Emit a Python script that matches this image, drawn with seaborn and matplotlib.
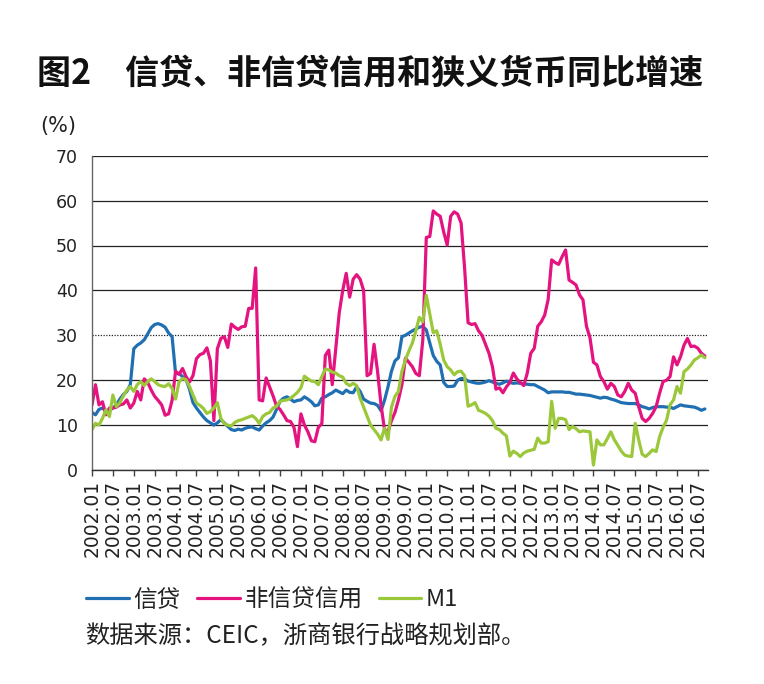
import matplotlib
matplotlib.use("Agg")
import matplotlib.pyplot as plt
import seaborn as sns
import pandas as pd

# ---- data (monthly, 2002.01 - 2016.09) ----
credit = [
    12.8, 12.3, 13.5, 13.8, 13.2, 13.3, 13.8, 14.5, 15.8, 16.8, 17.5, 19.0,
    27.0, 27.8, 28.3, 29.0, 30.3, 31.7, 32.4, 32.6, 32.3, 31.8, 30.5, 29.7,
    21.5, 21.5, 20.8, 20.2, 18.0, 15.0, 13.8, 12.8, 11.8, 11.0, 10.5, 10.0,
    10.5, 11.2, 10.5, 9.7, 9.0, 8.8, 9.1, 8.9, 9.3, 9.5, 9.6, 9.2,
    8.9, 9.8, 10.5, 11.0, 11.8, 13.5, 15.3, 16.0, 16.3, 15.8, 15.2, 15.5,
    15.6, 16.3, 15.8, 15.2, 14.3, 14.5, 16.0, 16.3, 16.8, 17.2, 17.8, 17.4,
    17.0, 17.8, 17.3, 17.2, 18.5, 17.5, 15.8, 15.3, 14.9, 14.8, 14.4, 13.2,
    15.5, 18.5, 22.0, 24.3, 25.0, 29.7, 30.0, 30.5, 31.0, 31.4, 31.8, 32.0,
    31.2, 28.3, 25.5, 24.2, 23.4, 19.5, 18.6, 18.6, 18.7, 20.0, 20.4, 20.3,
    19.8, 19.6, 19.4, 19.3, 19.4, 19.6, 19.9, 19.6, 19.3, 19.1, 19.4, 19.8,
    19.5, 19.3, 19.4, 19.3, 19.2, 19.1, 19.0, 19.0, 18.6, 18.2, 17.8, 17.2,
    17.4, 17.4,
    17.4, 17.4, 17.3, 17.3, 17.1, 16.9, 16.9, 16.8, 16.7, 16.6, 16.4, 16.2,
    16.0, 16.2, 16.1, 15.8, 15.6, 15.3, 15.0, 14.9, 14.8, 14.8, 14.8, 14.5,
    14.1, 13.9, 13.6, 13.9, 14.1, 14.1, 14.1, 14.0, 14.0, 13.7, 14.1, 14.5,
    14.3, 14.2, 14.1, 14.0, 13.7, 13.3, 13.6,
]

noncredit = [
    14.5, 19.0, 14.5, 15.2, 12.3, 13.8, 13.8, 14.0, 14.5, 14.7, 15.6, 13.8,
    14.9, 17.5, 15.6, 20.3, 19.5, 17.8, 16.4, 15.5, 14.5, 12.2, 12.5, 15.5,
    22.0, 21.3, 22.6, 20.8, 19.6, 21.0, 24.8, 25.7, 26.0, 27.2, 24.3, 11.0,
    27.0, 29.3, 29.7, 27.3, 32.5, 31.8, 31.3, 31.9, 32.0, 36.0, 36.0, 45.0,
    15.6, 15.4, 20.5, 18.5, 16.5, 14.2, 13.5, 12.3, 11.0, 10.8, 9.5, 5.2,
    12.5, 10.0, 8.5, 6.5, 6.3, 9.5, 10.3, 25.5, 26.7, 19.0, 27.0, 35.0,
    40.0, 43.8, 38.5, 42.5, 43.5, 42.5, 40.0, 21.0, 21.5, 28.0, 22.0, 14.5,
    9.0, 8.5, 11.0, 12.8, 15.6, 19.0, 24.9, 24.0, 23.0, 21.5, 21.0, 29.0,
    51.8, 52.0, 57.7, 57.0, 56.5, 53.0, 50.1, 56.5, 57.5, 57.0, 55.0, 45.0,
    32.8, 32.4, 32.6, 31.0, 30.0, 28.0, 26.0, 23.0, 18.0, 18.3, 17.2, 18.5,
    19.5, 21.6, 20.3, 19.5, 18.8, 21.6, 26.0, 27.1, 32.0, 33.0, 34.5, 38.0,
    46.8, 46.2, 45.8, 47.5, 49.0, 42.3, 41.8, 41.2, 39.0, 37.9, 32.0, 29.5,
    24.0, 23.4, 20.8, 19.7, 18.0, 19.3, 18.6, 16.7, 16.3, 17.5, 19.3, 17.8,
    17.1, 14.1, 11.5, 10.8, 11.5, 12.6, 14.1, 17.1, 19.7, 20.0, 20.8, 25.2,
    23.4, 25.2, 27.8, 29.3, 27.5, 27.6, 27.1, 26.0, 25.4,
]

m1 = [
    9.0, 10.4, 10.0, 11.5, 13.4, 11.9, 16.7, 14.1, 15.0, 16.5, 17.8, 18.6,
    17.5, 19.0, 19.7, 18.8, 19.7, 20.3, 19.7, 19.0, 18.7, 18.6, 19.2, 18.2,
    15.8, 19.6, 20.4, 20.1, 18.6, 16.7, 14.9, 14.4, 13.7, 12.6, 13.0, 13.8,
    15.0, 11.5, 10.3, 10.0, 9.8, 10.6, 11.0, 11.2, 11.5, 11.8, 12.1, 11.5,
    10.4, 11.9, 12.5, 12.8, 13.8, 14.2, 15.3, 15.5, 15.6, 16.0, 16.6, 17.3,
    18.3, 20.9, 20.3, 19.8, 19.7, 19.0, 20.8, 22.5, 22.3, 21.8, 21.6, 21.0,
    20.7, 19.3, 18.8, 19.3, 18.8, 16.0, 14.0, 12.0, 10.0, 9.0, 8.0, 6.7,
    9.3, 6.8, 14.0, 16.4, 17.5, 22.0, 24.5, 26.5, 28.3, 31.0, 34.0, 33.0,
    38.9, 34.8, 30.6, 31.0, 28.0, 24.5, 23.0, 22.3, 21.2, 21.9, 22.0, 21.0,
    14.2, 14.5, 15.0, 13.3, 13.0, 12.6, 12.0, 11.0, 9.3, 9.0, 8.2, 7.6,
    3.1, 4.2, 3.7, 3.0, 3.8, 4.2, 4.4, 4.6, 7.1, 6.0, 6.0, 6.3,
    15.3, 9.3, 11.5, 11.5, 11.2, 9.0, 9.7, 9.2, 8.5, 8.7, 8.6, 8.5,
    1.1, 6.7, 5.6, 5.6, 7.0, 8.5, 6.7, 5.5, 4.2, 3.3, 3.1, 3.0,
    10.4, 6.7, 3.5, 3.0, 3.7, 4.5, 4.1, 7.4, 9.5, 11.1, 14.5, 15.6,
    18.6, 17.1, 21.9, 22.5, 23.4, 24.5, 25.0, 25.6, 25.0,
]

series_names = ["信贷", "非信贷信用", "M1"]
series_colors = ["#1f6fb2", "#e4137f", "#9bc83b"]

tick_labels = [
    "2002.01", "2002.07", "2003.01", "2003.07", "2004.01", "2004.07",
    "2005.01", "2005.07", "2006.01", "2006.07", "2007.01", "2007.07",
    "2008.01", "2008.07", "2009.01", "2009.07", "2010.01", "2010.07",
    "2011.01", "2011.07", "2012.01", "2012.07", "2013.01", "2013.07",
    "2014.01", "2014.07", "2015.01", "2015.07", "2016.01", "2016.07",
]
tick_step = 6

title_text = "图2　信贷、非信贷信用和狭义货币同比增速"
unit_text = "(%)"
source_text = "数据来源：CEIC，浙商银行战略规划部。"

# ---- long-form table ----
n = len(credit)
month_idx = list(range(n))
df = pd.DataFrame({
    "month": month_idx * 3,
    "value": credit + noncredit + m1,
    "series": [series_names[0]] * n + [series_names[1]] * n + [series_names[2]] * n,
})

sns.set_style("white")
plt.rcParams["font.family"] = ["Noto Sans CJK SC", "DejaVu Sans"]

fig = plt.figure(figsize=(7.64, 6.84), dpi=100)
ax = fig.add_axes([92 / 764, 1 - 470 / 684, 616 / 764, 314.3 / 684])

sns.lineplot(data=df, x="month", y="value", hue="series", hue_order=series_names,
             palette=series_colors, linewidth=2.3, estimator=None, sort=False,
             legend=False, ax=ax)

ax.set_xlim(0, 176.9)
ax.set_ylim(0, 70)
ax.set_yticks(range(0, 71, 10))
ax.set_yticklabels([str(v) for v in range(0, 71, 10)], fontsize=12.5, family="DejaVu Sans")
ax.set_xticks(list(range(0, tick_step * len(tick_labels), tick_step)))
ax.set_xticklabels(tick_labels, rotation=90, fontsize=13.5, family="DejaVu Sans")
ax.set_xlabel("")
ax.set_ylabel("")

ax.yaxis.grid(True, color="#222222", linewidth=0.9)
ax.xaxis.grid(False)
ax.set_axisbelow(True)
gl = ax.get_ygridlines()
gl[3].set_linestyle((0, (1, 1.2)))

ax.tick_params(axis="x", bottom=True, direction="out", length=4, width=1,
               color="#444444", pad=3, labelcolor="#222222")
ax.tick_params(axis="y", left=False, length=0, pad=10, labelcolor="#222222")
for s in ("top", "right"):
    ax.spines[s].set_visible(False)
ax.spines["left"].set_color("#666666")
ax.spines["left"].set_linewidth(1.0)
ax.spines["bottom"].set_color("#333333")
ax.spines["bottom"].set_linewidth(1.0)

# ---- texts ----
fig.text(37 / 764, 1 - 73 / 684, title_text, fontsize=24.5, fontweight="bold",
         va="center", ha="left", color="#111111")
fig.text(40 / 764, 1 - 126 / 684, unit_text, fontsize=15, va="center", ha="left",
         color="#222222", family="DejaVu Sans")

handles = ax.get_lines()[:3]
ax.legend(handles, series_names, loc="center left",
          bbox_to_anchor=(86 / 764, 1 - 600 / 684), bbox_transform=fig.transFigure,
          ncol=3, frameon=False, fontsize=17, handlelength=1.8, handletextpad=0.2,
          columnspacing=0.7, borderpad=0, borderaxespad=0, labelcolor="#222222")

fig.text(85 / 764, 1 - 636 / 684, source_text, fontsize=17.5, va="center", ha="left",
         color="#222222")

fig.savefig("out.png", dpi=100)
